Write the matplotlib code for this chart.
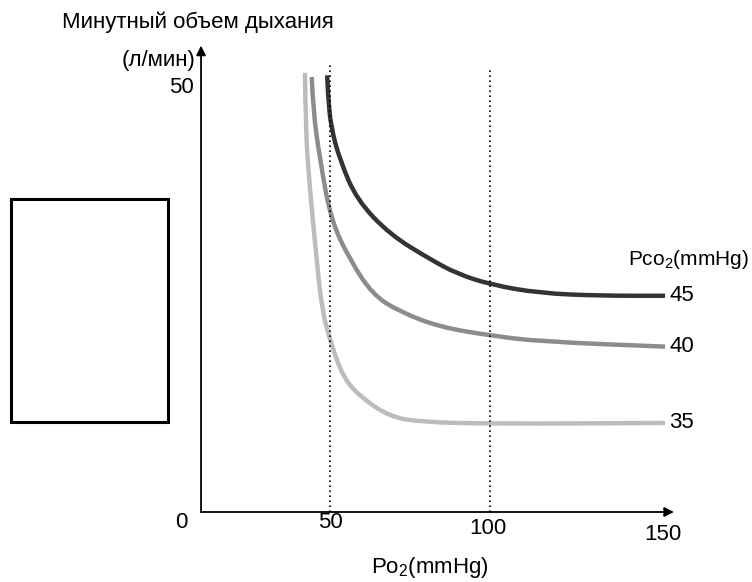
import matplotlib
matplotlib.use("Agg")
import matplotlib.pyplot as plt
from matplotlib.patches import Rectangle, PathPatch
from matplotlib.path import Path

plt.rcParams['font.family'] = ['Liberation Sans', 'DejaVu Sans']
plt.rcParams['mathtext.fontset'] = 'custom'
plt.rcParams['mathtext.rm'] = 'Liberation Sans'
plt.rcParams['mathtext.it'] = 'Liberation Sans'

# Po2 (mmHg) vs minute ventilation, one curve per Pco2 level
pco2_levels = ['45', '40', '35']
po2_45 = [49.1, 49.4, 50.3, 53.1, 58.4, 68.8, 81.3, 89.7, 100.3, 115.6, 134.4, 154.7]
vent_45 = [51.5, 49.0, 45.4, 41.5, 36.8, 32.7, 29.8, 28.1, 26.8, 25.8, 25.5, 25.5]
po2_40 = [44.3, 44.7, 46.9, 50.3, 56.3, 63.4, 71.9, 84.4, 100.3, 115.6, 154.7]
vent_40 = [51.3, 47.4, 41.5, 34.4, 29.7, 25.6, 23.6, 21.8, 20.8, 20.1, 19.5]
po2_35 = [42.2, 42.3, 43.8, 45.9, 47.5, 50.3, 54.1, 59.4, 68.8, 79.1, 100.3, 154.7]
vent_35 = [51.8, 45.4, 37.6, 29.5, 23.8, 19.9, 15.9, 13.6, 11.2, 10.6, 10.4, 10.5]
colors = ['#333333', '#8c8c8c', '#bcbcbc']

x_ticks = [50, 100, 150]
dotted_x = [50, 100]
FS = 16


def smooth_path(xs, ys):
    # quadratic bezier through midpoints of the read points
    pts = list(zip(xs, ys))
    verts = [pts[0]]
    codes = [Path.MOVETO]
    for i in range(1, len(pts) - 1):
        mid = ((pts[i][0] + pts[i + 1][0]) / 2, (pts[i][1] + pts[i + 1][1]) / 2)
        verts += [pts[i], mid]
        codes += [Path.CURVE3, Path.CURVE3]
    verts.append(pts[-1])
    codes.append(Path.LINETO)
    return Path(verts, codes)


fig = plt.figure(figsize=(7.52, 5.82), dpi=100)
ax = fig.add_axes([0, 0, 1, 1])
# pixel-aligned data window
ax.set_xlim(-170 / 3.2, (752 - 170) / 3.2)
ax.set_ylim((512 - 582) / 8.48, 512 / 8.48)
ax.axis('off')

x0, y0 = 9.7, 0.0

# axes with arrows
ax.annotate('', xy=(157.5, y0), xytext=(x0, y0),
            arrowprops=dict(arrowstyle='-|>', lw=1.3, color='black',
                            mutation_scale=14, shrinkA=0, shrinkB=0))
ax.annotate('', xy=(x0, 55.0), xytext=(x0, y0),
            arrowprops=dict(arrowstyle='-|>', lw=1.3, color='black',
                            mutation_scale=14, shrinkA=0, shrinkB=0))

# dotted guide lines
ax.plot([dotted_x[0], dotted_x[0]], [y0, 52.7], color='black', lw=1.2, ls=(0, (1, 2)))
ax.plot([dotted_x[1], dotted_x[1]], [y0, 52.1], color='black', lw=1.2, ls=(0, (1, 2)))

# curves
for xs, ys, c in [(po2_45, vent_45, colors[0]),
                  (po2_40, vent_40, colors[1]),
                  (po2_35, vent_35, colors[2])]:
    ax.add_patch(PathPatch(smooth_path(xs, ys), facecolor='none', edgecolor=c,
                           lw=3.2, joinstyle='round', capstyle='butt'))

# curve labels
for ys, lab in zip([vent_45, vent_40, vent_35], pco2_levels):
    ax.text(156.0, ys[-1], lab, fontsize=FS, ha='left', va='center')
ax.text(181.0, 29.8, r'Pco$_2$(mmHg)', fontsize=15, ha='right', va='center')

# tick labels
ax.text(3.5, -1.2, '0', fontsize=FS, ha='center', va='center')
ax.text(x_ticks[0], -1.2, '50', fontsize=FS, ha='center', va='center')
ax.text(x_ticks[1] - 0.8, -1.9, '100', fontsize=FS, ha='center', va='center')
ax.text(x_ticks[2] + 4, -2.7, '150', fontsize=FS, ha='center', va='center')
ax.text(3.5, 50, '50', fontsize=FS, ha='center', va='center')

# axis titles
ax.text(81.3, -6.5, r'Po$_2$(mmHg)', fontsize=FS, ha='center', va='center')
ax.text(-33.8, 57.8, 'Минутный объем дыхания', fontsize=FS, ha='left', va='center')
ax.text(8.1, 53.3, '(л/мин)', fontsize=FS, ha='right', va='center')

# empty box on the left
fig.add_artist(Rectangle((11 / 752, 1 - 422 / 582), 157 / 752, 223 / 582,
                         transform=fig.transFigure, fill=False, lw=2.2,
                         edgecolor='black'))

fig.savefig('out.png', dpi=100)
